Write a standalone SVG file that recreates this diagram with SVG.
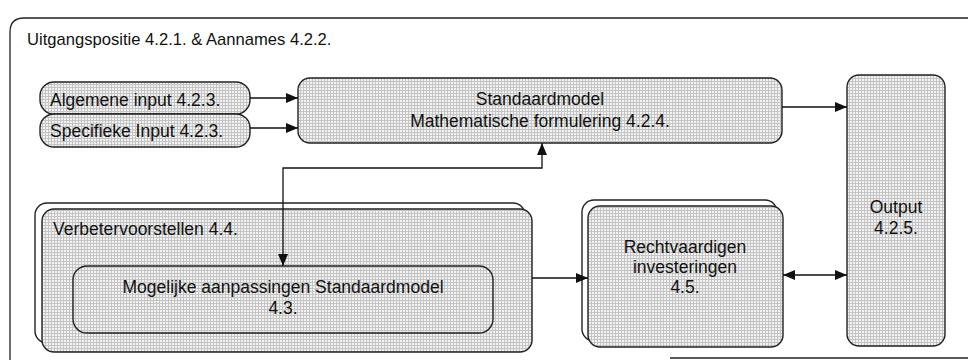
<svg xmlns="http://www.w3.org/2000/svg" width="968" height="360" viewBox="0 0 968 360">
  <defs>
    <pattern id="halftone" width="3" height="3" patternUnits="userSpaceOnUse">
      <rect width="3" height="3" fill="#f2f2f2"/>
      <rect width="3" height="1" fill="#c4c4c4"/>
      <rect width="1" height="3" fill="#c4c4c4"/>
    </pattern>
    <marker id="arrow" viewBox="0 0 12 10" refX="12" refY="5" markerWidth="12" markerHeight="10" markerUnits="userSpaceOnUse" orient="auto-start-reverse">
      <path d="M0,0 L12,5 L0,10 z" fill="#111"/>
    </marker>
  </defs>
  <style>
    .box { fill: url(#halftone); stroke: #222; stroke-width: 1.4; }
    .back { fill: #ffffff; stroke: #222; stroke-width: 1.4; }
    .frame { fill: none; stroke: #222; stroke-width: 1.3; }
    .conn { fill: none; stroke: #111; stroke-width: 1.3; }
    text { font-family: "Liberation Sans", Arial, sans-serif; fill: #111; }
    .lbl { font-size: 17.5px; }
    .mid { text-anchor: middle; }
    .title { font-size: 16.6px; }
  </style>

  <!-- outer frame -->
  <g id="frame">
    <path class="frame" d="M10 360 V32 Q10 18 24 18 H968"/>
    <path class="frame" d="M670 358 H968"/>
    <text class="title" x="27" y="45">Uitgangspositie 4.2.1. &amp; Aannames 4.2.2.</text>
  </g>

  <g id="algemene-input">
    <rect class="box" x="40" y="82" width="210" height="32" rx="14"/>
    <text class="lbl" x="50" y="106">Algemene input 4.2.3.</text>
  </g>

  <g id="specifieke-input">
    <rect class="box" x="40" y="114" width="210" height="33" rx="14"/>
    <text class="lbl" x="50" y="137">Specifieke Input 4.2.3.</text>
  </g>

  <g id="standaardmodel">
    <rect class="box" x="298" y="78" width="484" height="65" rx="12"/>
    <text class="lbl mid" x="540" y="105">Standaardmodel</text>
    <text class="lbl mid" x="540" y="127">Mathematische formulering 4.2.4.</text>
  </g>

  <g id="output">
    <rect class="box" x="847" y="75" width="98" height="271" rx="12"/>
    <text class="lbl mid" x="896" y="213">Output</text>
    <text class="lbl mid" x="896" y="234">4.2.5.</text>
  </g>

  <g id="verbetervoorstellen">
    <rect class="back" x="35" y="203" width="490" height="140" rx="12"/>
    <rect class="box" x="42" y="209" width="490" height="143" rx="12"/>
    <text class="lbl" x="53" y="235">Verbetervoorstellen 4.4.</text>
  </g>

  <g id="mogelijke-aanpassingen">
    <rect class="box" x="73" y="266" width="420" height="67" rx="14"/>
    <text class="lbl mid" x="283" y="293">Mogelijke aanpassingen Standaardmodel</text>
    <text class="lbl mid" x="283" y="314">4.3.</text>
  </g>

  <g id="rechtvaardigen-investeringen">
    <rect class="back" x="582" y="200" width="195" height="141" rx="12"/>
    <rect class="box" x="588" y="206" width="195" height="141" rx="12"/>
    <text class="lbl mid" x="685" y="253">Rechtvaardigen</text>
    <text class="lbl mid" x="685" y="273">investeringen</text>
    <text class="lbl mid" x="685" y="293">4.5.</text>
  </g>

  <g id="connectors">
    <path class="conn" d="M250 98 H298" marker-end="url(#arrow)"/>
    <path class="conn" d="M250 128 H298" marker-end="url(#arrow)"/>
    <path class="conn" d="M782 107 H847" marker-end="url(#arrow)"/>
    <path class="conn" d="M283 266 V168 H542 V143" marker-start="url(#arrow)" marker-end="url(#arrow)"/>
    <path class="conn" d="M532 278 H588" marker-end="url(#arrow)"/>
    <path class="conn" d="M783 275 H847" marker-start="url(#arrow)" marker-end="url(#arrow)"/>
  </g>
</svg>
